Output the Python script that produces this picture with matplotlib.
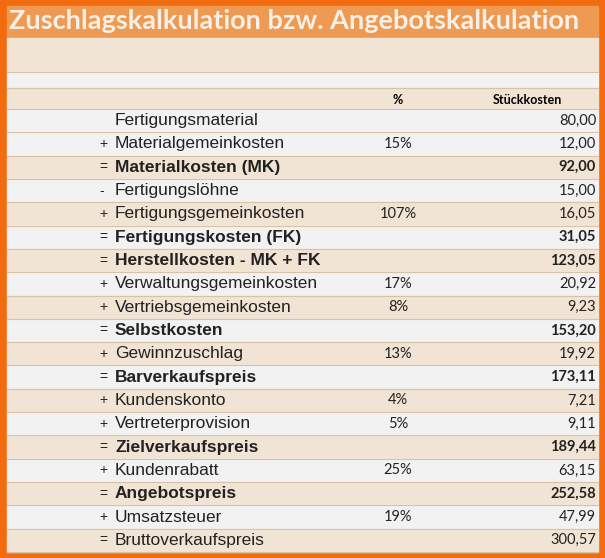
import matplotlib.pyplot as plt
from matplotlib.patches import Rectangle

title = "Zuschlagskalkulation bzw. Angebotskalkulation"
prefixes = ["", "+", "=", "-", "+", "=", "=", "+", "+", "=", "+", "=", "+", "+", "=", "+", "=", "+", "="]
labels = ["Fertigungsmaterial", "Materialgemeinkosten", "Materialkosten (MK)", "Fertigungslöhne",
          "Fertigungsgemeinkosten", "Fertigungskosten (FK)", "Herstellkosten - MK + FK",
          "Verwaltungsgemeinkosten", "Vertriebsgemeinkosten", "Selbstkosten", "Gewinnzuschlag",
          "Barverkaufspreis", "Kundenskonto", "Vertreterprovision", "Zielverkaufspreis",
          "Kundenrabatt", "Angebotspreis", "Umsatzsteuer", "Bruttoverkaufspreis"]
percents = ["", "15%", "", "", "107%", "", "", "17%", "8%", "", "13%", "", "4%", "5%", "", "25%", "", "19%", ""]
values = ["80,00", "12,00", "92,00", "15,00", "16,05", "31,05", "123,05", "20,92", "9,23", "153,20",
          "19,92", "173,11", "7,21", "9,11", "189,44", "63,15", "252,58", "47,99", "300,57"]
bold = [False, False, True, False, False, True, True, False, False, True, False, True,
        False, False, True, False, True, False, False]

W, H = 605, 558
fig = plt.figure(figsize=(W / 100, H / 100), dpi=100)
ax = fig.add_axes([0, 0, 1, 1])
ax.set_xlim(0, W)
ax.set_ylim(H, 0)
ax.axis("off")

beige = "#F2E4D4"
light = "#F2F2F2"
line = "#D9C3A8"

ax.add_patch(Rectangle((0, 0), W, H, color="#F26B0F"))
ax.add_patch(Rectangle((7, 6), W - 14, 32, color="#EE9A52"))
ax.text(W / 2 - 8, 21, title, ha="center", va="center", color="#F8F0E6",
        fontsize=19.5, fontweight="bold", family="Lato")

ax.add_patch(Rectangle((7, 38), W - 14, 34, color=beige))
ax.add_patch(Rectangle((7, 72), W - 14, 16, color=light))
ax.add_patch(Rectangle((7, 88), W - 14, 21, color=beige))
for yy in (72, 88, 109):
    ax.plot([7, W - 7], [yy, yy], color=line, lw=0.8)
ax.text(398, 100, "%", ha="center", va="center", fontsize=9, fontweight="bold", family="Lato")
ax.text(527, 100, "Stückkosten", ha="center", va="center", fontsize=9, fontweight="bold", family="Lato")

top, rh = 109, (552 - 109) / len(labels)
for i, lab in enumerate(labels):
    y0 = top + i * rh
    col = light if (i == 0 or i % 2 == 1) else beige
    ax.add_patch(Rectangle((7, y0), W - 14, rh, color=col))
    ax.plot([7, W - 7], [y0 + rh, y0 + rh], color=line, lw=0.8)
    yc = y0 + rh / 2
    if prefixes[i]:
        ax.text(99, yc, prefixes[i], ha="left", va="center", fontsize=10, family="Liberation Sans", color="#222222")
    ax.text(115, yc, lab, ha="left", va="center", fontsize=12.5, family="Liberation Sans",
            fontweight="bold" if bold[i] else "normal", color="#222222")
    ax.text(398, yc, percents[i], ha="center", va="center", fontsize=10.5, family="Lato", color="#222222")
    ax.text(596, yc, values[i], ha="right", va="center", fontsize=10.5, family="Lato",
            fontweight="bold" if bold[i] else "normal", color="#222222")

fig.savefig("out.png", dpi=100)
